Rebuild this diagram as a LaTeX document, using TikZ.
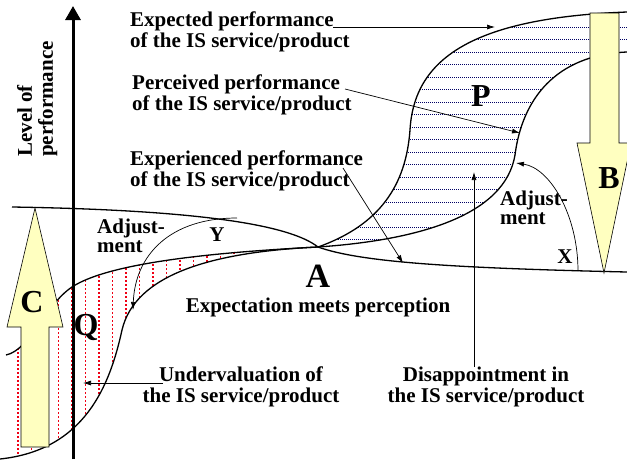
\documentclass[tikz,border=0pt]{standalone}
\usepackage{fontspec}
\setmainfont{Liberation Serif}
\usetikzlibrary{arrows,arrows.meta}
\definecolor{pale}{RGB}{255,255,192}
\definecolor{hatchblue}{RGB}{0,0,100}
\definecolor{hatchred}{RGB}{240,0,20}
\newcommand{\isp}{the IS service/product}
\newcommand{\lblfont}{\bfseries\fontsize{21}{21}\selectfont}
\newcommand{\bigfont}{\bfseries\fontsize{32}{32}\selectfont}

\begin{document}
\begin{tikzpicture}[x=1pt,y=-1pt,>={Latex[length=8pt,width=5pt]},
    every node/.style={font=\lblfont, inner sep=0pt},
    letter/.style={font=\bigfont},
    curve/.style={line width=1.3pt},
    pointer/.style={->, line width=0.7pt},
    block/.style={fill=pale, draw=black, line width=0.6pt}]
  \useasboundingbox (0,0) rectangle (627,459);
  \clip (0,0) rectangle (627,459);
  \begin{scope}
    \clip (318,247) .. controls (380,225) and (406,185) .. (410,130)
      .. controls (414,60) and (470,18) .. (627,12) -- (627,52)
      .. controls (555,55) and (522,100) .. (515,155)
      .. controls (505,215) and (420,240) .. (318,247);
    \foreach \y in {27,39.5,...,250}
      \draw [hatchblue, dash pattern=on 1pt off 1pt, line width=0.8pt] (300,\y) -- (627,\y);
  \end{scope}
  \begin{scope}
    \clip (318,247) .. controls (220,252) and (110,262) .. (72,287)
      .. controls (45,305) and (30,350) .. (6,355) -- (0,355) -- (0,459)
      .. controls (85,450) and (110,385) .. (122,330)
      .. controls (135,275) and (210,252) .. (318,247);
    \foreach \x in {18,31.5,...,240}
      \draw [hatchred, dash pattern=on 2pt off 2pt, line width=1.4pt] (\x,240) -- (\x,459);
  \end{scope}
  \coordinate (A) at (318,247);
  \draw [curve] (A) .. controls (380,225) and (406,185) .. (410,130)
    .. controls (414,60) and (470,18) .. (627,12);
  \draw [curve] (A) .. controls (420,240) and (505,215) .. (515,155)
    .. controls (522,100) and (555,55) .. (627,52);
  \draw [curve] (A) .. controls (360,262) and (450,268) .. (627,272);
  \draw [curve] (A) .. controls (290,225) and (200,210) .. (12,207);
  \draw [curve] (A) .. controls (220,252) and (110,262) .. (72,287)
    .. controls (45,305) and (30,350) .. (6,355);
  \draw [curve] (A) .. controls (210,252) and (135,275) .. (122,330)
    .. controls (110,385) and (85,450) .. (0,459);
  \coordinate (e1) at (333,27);
  \coordinate (e2) at (495,27);
  \coordinate (p1) at (345,89);
  \coordinate (p2) at (520,133);
  \coordinate (x1) at (343,168);
  \coordinate (x2) at (403,263);
  \coordinate (u1) at (163,383);
  \coordinate (u2) at (83,383);
  \coordinate (d1) at (474,367);
  \coordinate (d2) at (474,172);
  \coordinate (y1) at (237,218);
  \coordinate (y2) at (133,310);
  \coordinate (xa1) at (578,271);
  \coordinate (xa2) at (516,163);
  \draw [pointer] (e1) -- (e2);
  \draw [pointer] (p1) -- (p2);
  \draw [pointer] (x1) -- (x2);
  \draw [pointer] (u1) -- (u2);
  \draw [pointer] (d1) -- (d2);
  \draw [pointer] (y1) .. controls (170,218) and (135,255) .. (y2);
  \draw [pointer] (xa1) .. controls (578,215) and (550,168) .. (xa2);
  \draw [block] (590,13) -- (619,13) -- (619,143) -- (631,143) -- (604,273)
    -- (577,143) -- (590,143) -- cycle;
  \draw [block] (21,447) -- (49,447) -- (49,327) -- (63,327) -- (35,208)
    -- (7,327) -- (21,327) -- cycle;
  \coordinate (ax0) at (73,459);
  \coordinate (ax1) at (73,6);
  \draw [line width=3pt, -{Triangle[length=14pt,width=15pt]}] (ax0) -- (ax1);
  \node (lvl) [rotate=90, align=left, anchor=north west] at (17,157)
    {Level of\\performance};
  \node (exp) [align=left, anchor=north west] at (130,12)
    {Expected performance\\of \isp};
  \node (per) [align=left, anchor=north west] at (132,75)
    {Perceived performance\\of \isp};
  \node (xpr) [align=left, anchor=north west] at (130,151)
    {Experienced performance\\of \isp};
  \node (adjl) [align=left, anchor=north west,
    font=\bfseries\fontsize{21}{19}\selectfont] at (97,219) {Adjust-\\ment};
  \node (adjr) [align=left, anchor=north west,
    font=\bfseries\fontsize{21}{19}\selectfont] at (500,191) {Adjust-\\ment};
  \node (under) [align=center, anchor=north] at (241,367)
    {Undervaluation of\\\isp};
  \node (dis) [align=center, anchor=north] at (486,367)
    {Disappointment in\\\isp};
  \node (meet) [anchor=base] at (318,312) {Expectation meets perception};
  \node (a) [letter, anchor=base, font=\bfseries\fontsize{34}{34}\selectfont]
    at (318,287) {A};
  \node (p) [letter] at (481,96) {P};
  \node (q) [letter] at (86,327) {Q};
  \node (b) [letter] at (609,178) {B};
  \node (c) [letter] at (32,302) {C};
  \node (y) at (217,235) {Y};
  \node (x) at (565,257) {X};
\end{tikzpicture}
\end{document}
